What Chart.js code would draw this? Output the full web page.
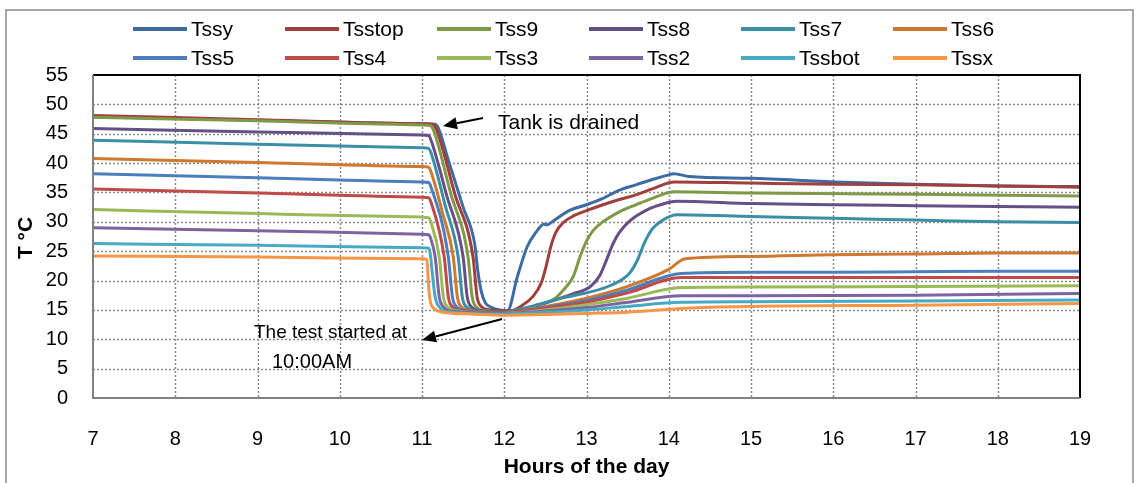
<!DOCTYPE html>
<html>
<head>
<meta charset="utf-8">
<script src="https://cdn.jsdelivr.net/npm/chart.js@4.4.1/dist/chart.umd.min.js"></script>
<style>
  html, body { margin: 0; padding: 0; background: #fff; }
</style>
</head>
<body>
<canvas id="chart" width="1136" height="483"></canvas>
<script>
// Series names and colours (same order as the legend)
const names = ['Tssy', 'Tsstop', 'Tss9', 'Tss8', 'Tss7', 'Tss6',
               'Tss5', 'Tss4', 'Tss3', 'Tss2', 'Tssbot', 'Tssx'];
const colors = ['#3D6BA3', '#A03F3C', '#7E9A46', '#664E87', '#3A8FA6', '#D0782E',
                '#4A7EBF', '#BE4B48', '#99BA56', '#7E63A0', '#47AAC5', '#F79646'];

// Readings: [hour of day, temperature °C]
const tssy = [[7,47.9],[9,47.3],[11,46.7],[11.16,46.6],[11.2,45.9],[11.32,40.5],[11.5,32.5],[11.64,26.3],[11.68,21.5],[11.72,18.2],[11.77,16.2],[11.85,15.4],[11.95,15.0],[12.04,14.9],[12.16,20.7],[12.28,25.8],[12.38,28.1],[12.48,29.6],[12.52,29.5],[12.6,30.2],[12.8,32.0],[13.0,32.9],[13.2,34.0],[13.4,35.4],[13.6,36.3],[13.8,37.2],[14.0,38.0],[14.06,38.2],[14.25,37.7],[15,37.4],[16,36.8],[17,36.4],[18,36.1],[19,36.0]];
const tsstop = [[7,48.1],[9,47.4],[11,46.7],[11.13,46.6],[11.17,45.9],[11.4,34.7],[11.62,24.0],[11.67,17.2],[11.72,15.6],[11.82,15.0],[11.95,14.8],[12.1,14.9],[12.2,15.6],[12.35,17.3],[12.45,19.6],[12.51,22.5],[12.57,26.0],[12.63,28.3],[12.72,29.9],[12.84,31.0],[13.0,31.9],[13.2,32.9],[13.4,33.8],[13.6,34.6],[13.8,35.6],[14.07,36.8],[15,36.6],[16,36.4],[17,36.3],[18,36.1],[19,35.9]];
const tss9 = [[7,47.8],[9,47.2],[11,46.5],[11.1,46.4],[11.14,45.6],[11.35,34.8],[11.56,24.0],[11.61,17.2],[11.66,15.5],[11.76,14.9],[11.95,14.6],[12.2,15.0],[12.4,15.8],[12.6,16.8],[12.72,18.4],[12.84,20.7],[12.92,24.0],[13.0,26.7],[13.08,28.5],[13.2,30.0],[13.4,31.7],[13.6,32.9],[13.8,34.0],[14.07,35.1],[15,34.9],[17,34.7],[19,34.4]];
const tss8 = [[7,45.9],[9,45.3],[11,44.8],[11.08,44.7],[11.11,43.9],[11.3,34.5],[11.5,24.0],[11.55,17.2],[11.6,15.5],[11.7,14.9],[11.95,14.6],[12.3,15.4],[12.6,16.6],[12.85,17.8],[13.04,18.9],[13.16,20.8],[13.24,23.4],[13.32,26.2],[13.4,28.2],[13.53,30.2],[13.73,32.0],[13.97,33.2],[14.09,33.5],[15,33.1],[16,32.9],[17,32.75],[18,32.6],[19,32.5]];
const tss7 = [[7,43.9],[9,43.2],[11,42.6],[11.08,42.5],[11.11,41.7],[11.28,32.9],[11.44,24.0],[11.49,17.2],[11.54,15.5],[11.64,14.9],[11.95,14.6],[12.3,15.5],[12.7,17.0],[13.0,17.9],[13.3,19.2],[13.52,21.2],[13.62,23.5],[13.7,26.3],[13.8,28.8],[13.93,30.3],[14.1,31.2],[15,30.9],[16,30.6],[17,30.3],[18,30.0],[19,29.9]];
const tss6 = [[7,40.8],[9,40.1],[11,39.4],[11.08,39.3],[11.11,38.5],[11.25,31.5],[11.38,24.0],[11.43,17.2],[11.48,15.5],[11.58,14.9],[11.95,14.5],[12.5,15.6],[13.0,17.0],[13.5,19.0],[14.0,21.9],[14.2,23.7],[15,24.1],[16,24.4],[17,24.5],[18,24.7],[19,24.7]];
const tss5 = [[7,38.2],[9,37.5],[11,36.8],[11.08,36.7],[11.11,35.9],[11.32,24.0],[11.37,17.2],[11.42,15.5],[11.52,14.9],[11.95,14.5],[12.5,15.4],[13.0,16.6],[13.5,18.4],[14.15,21.2],[15,21.4],[16,21.4],[17,21.5],[18,21.6],[19,21.6]];
const tss4 = [[7,35.6],[9,34.9],[11,34.2],[11.08,34.1],[11.11,33.3],[11.27,24.0],[11.32,17.2],[11.37,15.5],[11.47,14.9],[11.95,14.5],[12.5,15.3],[13.0,16.3],[13.5,17.9],[14.15,20.5],[15,20.5],[17,20.5],[19,20.5]];
const tss3 = [[7,32.1],[9,31.4],[11,30.8],[11.08,30.7],[11.11,29.9],[11.21,24.0],[11.26,17.2],[11.31,15.5],[11.41,14.9],[11.95,14.4],[12.5,15.0],[13.0,15.9],[13.5,17.0],[14.15,18.8],[15,18.9],[17,19.0],[19,19.1]];
const tss2 = [[7,29.0],[9,28.5],[11,27.9],[11.08,27.8],[11.11,27.0],[11.16,24.0],[11.21,17.2],[11.26,15.5],[11.36,14.8],[11.95,14.4],[12.5,14.8],[13.0,15.4],[13.5,16.3],[14.15,17.4],[15,17.4],[17,17.5],[19,17.8]];
const tssbot = [[7,26.3],[9,26.0],[11,25.6],[11.08,25.5],[11.1,24.6],[11.12,22.0],[11.16,17.2],[11.21,15.5],[11.31,14.7],[11.95,14.3],[12.5,14.6],[13.0,15.0],[13.5,15.6],[14.15,16.3],[15,16.4],[17,16.5],[19,16.7]];
const tssx = [[7,24.2],[9,24.0],[11,23.7],[11.06,23.6],[11.08,19.0],[11.1,16.5],[11.15,15.2],[11.25,14.6],[11.6,14.3],[12.0,14.1],[12.5,14.2],[13.0,14.4],[13.5,14.6],[14.0,15.1],[14.2,15.3],[15,15.6],[17,15.8],[19,16.1]];

const series = [tssy, tsstop, tss9, tss8, tss7, tss6, tss5, tss4, tss3, tss2, tssbot, tssx];

// Axis ranges
const hourMin = 7, hourMax = 19;
const tempMin = 0, tempMax = 55, tempStep = 5;

const FONT = '"Liberation Sans", Arial, sans-serif';

function arrow(ctx, x1, y1, x2, y2) {
    // line from (x1,y1) with a filled head at (x2,y2)
    const ang = Math.atan2(y2 - y1, x2 - x1);
    const len = 14, half = 6;
    const bx = x2 - len * Math.cos(ang), by = y2 - len * Math.sin(ang);
    ctx.beginPath();
    ctx.moveTo(x1, y1);
    ctx.lineTo(bx, by);
    ctx.stroke();
    ctx.beginPath();
    ctx.moveTo(x2, y2);
    ctx.lineTo(bx + half * Math.sin(ang), by - half * Math.cos(ang));
    ctx.lineTo(bx - half * Math.sin(ang), by + half * Math.cos(ang));
    ctx.closePath();
    ctx.fill();
}

const decor = {
    id: 'decor',
    beforeDatasetsDraw(chart) {
        const { ctx, chartArea: a, scales: { x, y } } = chart;
        ctx.save();
        ctx.strokeStyle = '#8a8a8a';
        ctx.lineWidth = 1.5;
        ctx.setLineDash([2, 2]);
        for (let v = tempMin + tempStep; v < tempMax; v += tempStep) {
            const py = Math.round(y.getPixelForValue(v)) + 0.5;
            ctx.beginPath(); ctx.moveTo(a.left, py); ctx.lineTo(a.right, py); ctx.stroke();
        }
        for (let h = hourMin + 1; h < hourMax; h++) {
            const px = Math.round(x.getPixelForValue(h)) + 0.5;
            ctx.beginPath(); ctx.moveTo(px, a.top); ctx.lineTo(px, a.bottom); ctx.stroke();
        }
        ctx.restore();
    },
    afterDatasetsDraw(chart) {
        const { ctx, chartArea: a } = chart;
        ctx.save();
        // plot area border
        ctx.lineWidth = 2;
        ctx.strokeStyle = '#000';
        ctx.beginPath();
        ctx.moveTo(a.left, a.top); ctx.lineTo(a.right, a.top); ctx.lineTo(a.right, a.bottom);
        ctx.stroke();
        ctx.strokeStyle = '#808080';
        ctx.beginPath();
        ctx.moveTo(a.left, a.top); ctx.lineTo(a.left, a.bottom); ctx.lineTo(a.right, a.bottom);
        ctx.stroke();

        // outer chart frame
        ctx.lineWidth = 1.5;
        ctx.strokeStyle = '#8c8c8c';
        ctx.strokeRect(6, 10, 1127, 490);

        // legend, two rows of six
        ctx.font = '21px ' + FONT;
        ctx.textBaseline = 'middle';
        ctx.textAlign = 'left';
        chart.data.datasets.forEach((ds, i) => {
            const col = i % 6, row = Math.floor(i / 6);
            const lx = 133 + col * 152, ly = 29 + row * 29;
            ctx.strokeStyle = ds.borderColor;
            ctx.lineWidth = 4;
            ctx.beginPath(); ctx.moveTo(lx, ly); ctx.lineTo(lx + 54, ly); ctx.stroke();
            ctx.fillStyle = '#000';
            ctx.fillText(ds.label, lx + 58, ly + 1);
        });

        // axis titles
        ctx.font = 'bold 21px ' + FONT;
        ctx.textAlign = 'center';
        ctx.fillText('Hours of the day', (a.left + a.right) / 2, 467);
        ctx.save();
        ctx.translate(26, 238);
        ctx.rotate(-Math.PI / 2);
        ctx.fillText('T \u00B0C', 0, 0);
        ctx.restore();

        // annotations
        ctx.textAlign = 'left';
        ctx.font = '21px ' + FONT;
        ctx.fillText('Tank is drained', 498, 123);
        ctx.font = '19px ' + FONT;
        ctx.fillText('The test started at', 254, 333);
        ctx.font = '20px ' + FONT;
        ctx.fillText('10:00AM', 272, 362);
        ctx.strokeStyle = '#000';
        ctx.fillStyle = '#000';
        ctx.lineWidth = 2;
        arrow(ctx, 483, 118, 443, 126);
        arrow(ctx, 502, 319, 422, 340);
        ctx.restore();
    }
};

new Chart(document.getElementById('chart'), {
    type: 'line',
    data: {
        datasets: series.map((d, i) => ({
            label: names[i],
            data: d,
            borderColor: colors[i],
            backgroundColor: colors[i],
            borderWidth: 3,
            pointRadius: 0,
            fill: false,
            cubicInterpolationMode: 'monotone',
            order: series.length - i
        }))
    },
    options: {
        responsive: false,
        animation: false,
        layout: { padding: { top: 75, right: 56, left: 0, bottom: 0 } },
        plugins: {
            legend: { display: false },
            tooltip: { enabled: false }
        },
        scales: {
            x: {
                type: 'linear',
                min: hourMin,
                max: hourMax,
                grid: { display: false, drawTicks: false },
                border: { display: false },
                ticks: {
                    stepSize: 1,
                    maxRotation: 0,
                    autoSkip: false,
                    padding: 29,
                    color: '#000',
                    font: { family: FONT, size: 20 }
                },
                afterFit(s) { s.height = 85; }
            },
            y: {
                min: tempMin,
                max: tempMax,
                grid: { display: false, drawTicks: false },
                border: { display: false },
                ticks: {
                    stepSize: tempStep,
                    padding: 25,
                    color: '#000',
                    font: { family: FONT, size: 20 }
                },
                afterFit(s) { s.width = 93; }
            }
        }
    },
    plugins: [decor]
});
</script>
</body>
</html>
